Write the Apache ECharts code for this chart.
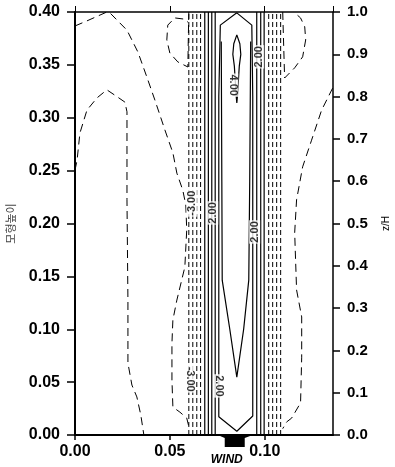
<!DOCTYPE html>
<html>
<head>
<meta charset="utf-8">
<script src="https://cdn.jsdelivr.net/npm/echarts@6/dist/echarts.min.js"></script>
<style>
html, body { margin: 0; padding: 0; background: #fff; }
#chart { width: 395px; height: 467px; }
</style>
</head>
<body>
<div id="chart"></div>
<script>
// axis ranges / ticks
var xMax = 0.136;
var xStep = 0.05;
var leftMax = 0.40, leftStep = 0.05;
var rightMax = 1.0, rightStep = 0.1;

// contour lines, [x, z/H]
// weak negative contours (dashed)
var outerLeft = [[0,0.967],[0.0063,0.979],[0.0168,1.0],[0.0184,0.998],[0.0274,0.957],[0.0332,0.905],[0.0379,0.846],
	[0.0421,0.792],[0.0474,0.721],[0.0516,0.667],[0.0537,0.619],[0.0568,0.579],[0.0584,0.544],[0.0589,0.485],
	[0.0579,0.397],[0.0537,0.319],[0.0516,0.272],[0.0511,0.217],[0.0511,0.130],[0.0516,0.066],[0.0553,0.054],
	[0.0589,0.040],[0.0600,0.02]];
var innerLeft = [[0,0.626],[0.0011,0.650],[0.0026,0.714],[0.0063,0.768],[0.0116,0.797],[0.0168,0.816],[0.0221,0.800],
	[0.0263,0.787],[0.0274,0.764],[0.0274,0.556],[0.0279,0.319],[0.0279,0.170],[0.0300,0.118],[0.0326,0.090],
	[0.0347,0.047],[0.0363,0]];
var loopLeftTop = [[0.0600,1.0],[0.0597,0.93],[0.0595,0.870],[0.0542,0.882],[0.0500,0.903],[0.0484,0.934],
	[0.0489,0.969],[0.0526,0.986],[0.0579,0.983],[0.0597,0.975]];
var loopRightTop = [[0.1095,1.0],[0.1100,0.92],[0.1105,0.844],[0.1158,0.868],[0.1200,0.894],[0.1216,0.934],
	[0.1211,0.965],[0.1189,0.986],[0.1153,1.0]];
var outerRight = [[0.1358,0.820],[0.1300,0.768],[0.1247,0.697],[0.1200,0.634],[0.1168,0.556],[0.1158,0.478],
	[0.1168,0.343],[0.1195,0.279],[0.1195,0.184],[0.1189,0.076],[0.1142,0.040],[0.1116,0.031],[0.1095,0.015]];

// dense bands on both sides of the jet
var bandLeftX = [0.0600, 0.0621, 0.0642, 0.0662];
var bandRightX = [0.1021, 0.1042, 0.1063, 0.1084];
var jetLeftX = [0.0684, 0.0703, 0.0721, 0.0739];
var jetRightX = [0.0958, 0.0979, 0.0997];

// positive contours inside the jet (solid)
var hexContour = [[0.0853,0.998],[0.0932,0.969],[0.0937,0.8],[0.0937,0.045],[0.0853,0.009],[0.0758,0.043],
	[0.0758,0.8],[0.0766,0.969],[0.0853,0.998]];
var innerV = [[0.0771,0.93],[0.0774,0.6],[0.0776,0.366],[0.0816,0.25],[0.0853,0.137],[0.0889,0.25],
	[0.0916,0.366],[0.0921,0.6],[0.0926,0.93]];
var coreLens = [[0.0853,0.946],[0.0869,0.925],[0.0874,0.90],[0.0866,0.872],[0.0856,0.80],[0.0853,0.785],
	[0.0850,0.80],[0.0840,0.872],[0.0832,0.90],[0.0837,0.925],[0.0853,0.946]];

// contour labels
var labelTexts = ["-3.00", "2.00", "2.00", "2.00", "4.00", "-3.00", "2.00"];
var labelPoints = [[0.0616,0.548],[0.0726,0.525],[0.0947,0.480],[0.0968,0.894],[0.0832,0.827],[0.0605,0.132],[0.0760,0.116]];
var labelRotate = [90, 90, 90, 90, -90, -90, -90];

var windX = 0.0842;

var chart = echarts.init(document.getElementById("chart"));

var dashedOuter = { color: "#000", width: 1, type: [8, 5] };
var dashedBand = { color: "#000", width: 1, type: [5, 3] };
var solid = { color: "#000", width: 1.2 };

function lineSeries(points, style)
{
	return {
		type: "line", xAxisIndex: 0, yAxisIndex: 1, data: points,
		showSymbol: false, symbol: "none", lineStyle: style, silent: true, z: 2,
		clip: false, animation: false
	};
}

function vertical(x)
{
	return [[x, 0], [x, 1]];
}

var series = [];
[outerLeft, innerLeft, loopLeftTop, loopRightTop, outerRight].forEach(function(p){ series.push(lineSeries(p, dashedOuter)); });
bandLeftX.concat(bandRightX).forEach(function(x){ series.push(lineSeries(vertical(x), dashedBand)); });
jetLeftX.concat(jetRightX).forEach(function(x){ series.push(lineSeries(vertical(x), solid)); });
[hexContour, innerV, coreLens].forEach(function(p){ series.push(lineSeries(p, solid)); });

var labelData = [];
for(var i=0; i<labelPoints.length; i++)
{
	labelData.push({ value: labelPoints[i], name: labelTexts[i], label: { rotate: labelRotate[i] } });
}
series.push({
	type: "scatter", xAxisIndex: 0, yAxisIndex: 1, data: labelData, symbolSize: 2,
	itemStyle: { color: "rgba(0,0,0,0)" }, z: 10, animation: false, silent: true,
	labelLayout: { hideOverlap: false },
	label: {
		show: true, position: "inside", formatter: "{b}", color: "#000",
		fontFamily: "Liberation Sans", fontWeight: "bold", fontSize: 11,
		backgroundColor: "#fff", padding: [0, 1]
	}
});

var boldLabel = { color: "#000", fontFamily: "Liberation Sans", fontWeight: "bold", fontSize: 16 };

chart.setOption({
	animation: false,
	grid: { left: 75, right: 62, top: 12, bottom: 32, containLabel: false, outerBoundsMode: "none" },
	xAxis: [
		{
			type: "value", position: "bottom", min: 0, max: xMax, interval: xStep,
			axisLine: { show: true, onZero: false, lineStyle: { color: "#000", width: 2 } },
			axisTick: { show: true, length: 5, lineStyle: { color: "#000", width: 1.5 } },
			axisLabel: Object.assign({ margin: 9, showMaxLabel: false, formatter: function(v){ return v.toFixed(2); } }, boldLabel),
			splitLine: { show: false }
		},
		{
			type: "value", position: "top", min: 0, max: xMax, interval: xStep,
			axisLine: { show: true, onZero: false, lineStyle: { color: "#000", width: 1.5 } },
			axisTick: { show: true, length: 6, lineStyle: { color: "#000", width: 1 } },
			axisLabel: { show: false },
			splitLine: { show: false }
		}
	],
	yAxis: [
		{
			type: "value", position: "left", min: 0, max: leftMax, interval: leftStep,
			name: "모형높이", nameLocation: "middle", nameGap: 59, nameRotate: 90,
			nameTextStyle: { color: "#444", fontSize: 11, fontFamily: "Noto Sans CJK KR" },
			axisLine: { show: true, onZero: false, lineStyle: { color: "#000", width: 2 } },
			axisTick: { show: true, inside: false, length: 8, lineStyle: { color: "#000", width: 1.5 } },
			axisLabel: Object.assign({ margin: 15, formatter: function(v){ return v.toFixed(2); } }, boldLabel),
			splitLine: { show: false }
		},
		{
			type: "value", position: "right", min: 0, max: rightMax, interval: rightStep,
			name: "z/H", nameLocation: "middle", nameGap: 48, nameRotate: 90,
			nameTextStyle: { color: "#000", fontSize: 10, fontFamily: "Liberation Sans" },
			axisLine: { show: true, onZero: false, lineStyle: { color: "#000", width: 1.5 } },
			axisTick: { show: true, inside: false, length: 7, lineStyle: { color: "#000", width: 1.5 } },
			axisLabel: { margin: 14, color: "#000", fontFamily: "Liberation Sans", fontWeight: "bold", fontSize: 15,
				formatter: function(v){ return v.toFixed(1); } },
			splitLine: { show: false }
		}
	],
	series: series
});

// wind marker under the jet
var wx = chart.convertToPixel({ xAxisIndex: 0 }, windX);
var wy = chart.convertToPixel({ yAxisIndex: 1 }, 0);
chart.setOption({
	graphic: [
		{
			type: "polygon", x: wx, y: wy,
			shape: { points: [[-17, 0], [18, 0], [10, 3], [10, 12], [-10, 12], [-10, 3]] },
			style: { fill: "#000" }, z: 20
		},
		{
			type: "text", x: wx - 8, y: wy + 25,
			style: { text: "WIND", fill: "#000", font: "italic bold 12px 'Liberation Sans'", align: "center", verticalAlign: "middle" },
			z: 20
		}
	]
});
</script>
</body>
</html>
